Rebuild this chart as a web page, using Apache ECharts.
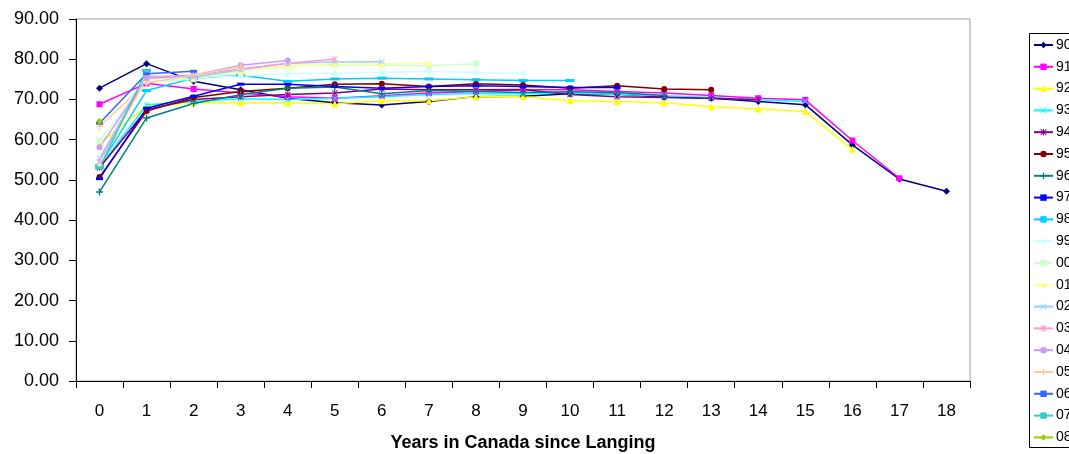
<!DOCTYPE html>
<html>
<head>
<meta charset="utf-8">
<script src="https://cdn.jsdelivr.net/npm/echarts@6/dist/echarts.min.js"></script>
<style>
  html, body { margin: 0; padding: 0; background: #fff; }
  #chart { width: 1069px; height: 454px; }
</style>
</head>
<body>
<div id="chart"></div>
<script>
// Years since landing (x categories)
const years = ['0','1','2','3','4','5','6','7','8','9','10','11','12','13','14','15','16','17','18'];

// Landing cohorts (legend names)
const cohorts = ['90','91','92','93','94','95','96','97','98','99','00','01','02','03','04','05','06','07','08'];

// Values per cohort, by years in Canada since landing
const s90 = [72.8, 78.9, 74.5, 72.4, 70.3, 69.2, 68.6, 69.5, 70.7, 70.8, 71.4, 71.3, 70.6, 70.3, 69.5, 68.7, 58.7, 50.2, 47.2];
const s91 = [68.8, 74.0, 72.6, 71.6, 70.7, 70.3, 70.9, 71.6, 72.0, 72.4, 72.4, 72.0, 71.6, 71.0, 70.3, 69.9, 59.8, 50.4];
const s92 = [59.0, 68.3, 69.2, 69.2, 69.1, 68.9, 69.7, 69.7, 70.7, 70.7, 69.7, 69.5, 69.2, 68.2, 67.6, 67.0, 57.6];
const s93 = [53.2, 68.7, 69.5, 70.2, 70.0, 70.3, 70.7, 71.2, 71.5, 71.4, 71.6, 71.2, 70.9, 70.5, 69.9, 69.5];
const s94 = [53.0, 67.5, 70.0, 70.7, 71.2, 71.6, 72.6, 72.4, 72.4, 72.5, 71.2, 70.7, 70.5, 70.3, 69.9];
const s95 = [50.7, 67.1, 70.5, 72.0, 72.8, 73.8, 73.9, 73.2, 73.9, 73.6, 72.8, 73.4, 72.6, 72.4];
const s96 = [47.0, 65.4, 69.0, 71.2, 72.8, 73.1, 71.4, 72.2, 72.0, 71.7, 71.9, 71.7, 71.0];
const s97 = [50.3, 67.8, 70.8, 73.8, 73.8, 73.2, 72.8, 73.2, 73.4, 73.2, 73.0, 73.0];
const s98 = [53.5, 72.2, 75.3, 76.0, 74.5, 75.1, 75.3, 75.1, 74.9, 74.7, 74.7];
const s99 = [55.0, 74.3, 75.5, 75.8, 76.4, 76.5, 76.7, 77.0, 76.7, 76.5];
const s00 = [59.8, 74.5, 75.0, 77.0, 78.5, 78.5, 78.5, 78.4, 78.9];
const s01 = [53.8, 75.0, 75.5, 77.1, 78.2, 78.8, 78.8, 79.0];
const s02 = [55.4, 75.8, 75.5, 77.4, 79.0, 79.3, 79.4];
const s03 = [54.6, 75.5, 76.0, 77.6, 79.0, 80.0];
const s04 = [58.1, 75.2, 76.0, 78.5, 79.7];
const s05 = [63.3, 74.1, 76.0, 78.2];
const s06 = [64.1, 76.4, 77.0];
const s07 = [53.0, 77.2];
const s08 = [64.5];

const values = [s90, s91, s92, s93, s94, s95, s96, s97, s98, s99, s00, s01, s02, s03, s04, s05, s06, s07, s08];

const colors = ['#000080','#FF00FF','#FFFF00','#00FFFF','#800080','#800000','#008080','#0000FF','#00CCFF',
                '#CCFFFF','#CCFFCC','#FFFF99','#99CCFF','#FF99CC','#CC99FF','#FFCC99','#3366FF','#33CCCC','#99CC00'];

// Marker shapes in the classic spreadsheet order
const X = 'path://M0,1L1,0L5,4L9,0L10,1L6,5L10,9L9,10L5,6L1,10L0,9L4,5Z';
const STAR = 'path://M0,1L1,0L4.3,3.3V0H5.7V3.3L9,0L10,1L6,5L10,9L9,10L5.7,6.7V10H4.3V6.7L1,10L0,9L4,5Z';
const PLUS = 'path://M4,0H6V4H10V6H6V10H4V6H0V4H4Z';
const DASH = 'path://M0,4H10V6H0Z';
const markers = ['diamond','rect','triangle',X,STAR,'circle',PLUS,DASH,DASH,
                 'diamond','rect','triangle',X,STAR,'circle',PLUS,DASH,DASH,'diamond'];
const sizes = [7,6,7,6,6,6,7,[7,3],[9,3],7,6,7,6,6,6,7,[7,3],[9,3],7];

const series = cohorts.map((name, i) => ({
  name: name,
  type: 'line',
  data: values[i],
  symbol: markers[i],
  symbolSize: sizes[i],
  showSymbol: true,
  showAllSymbol: true,
  lineStyle: { color: colors[i], width: 1.5 },
  itemStyle: { color: colors[i] },
  emphasis: { disabled: true }
}));

const chart = echarts.init(document.getElementById('chart'), null, { renderer: 'canvas' });
chart.setOption({
  animation: false,
  backgroundColor: '#fff',
  grid: { left: 76, right: 99, top: 19, bottom: 73, show: true, borderColor: '#a0a0a0', borderWidth: 1,
          containLabel: false, outerBoundsMode: 'none' },
  xAxis: {
    type: 'category',
    data: years,
    boundaryGap: true,
    name: 'Years in Canada since Langing',
    nameLocation: 'middle',
    nameGap: 53,
    nameTextStyle: { fontFamily: 'Liberation Sans, Arial, sans-serif', fontWeight: 'bold', fontSize: 18, color: '#000' },
    axisLine: { lineStyle: { color: '#000', width: 1 } },
    axisTick: { show: true, alignWithLabel: false, length: 7, lineStyle: { color: '#000' } },
    axisLabel: { margin: 22, fontFamily: 'Liberation Sans, Arial, sans-serif', fontSize: 17, color: '#000', interval: 0 },
    splitLine: { show: false }
  },
  yAxis: {
    type: 'value',
    min: 0, max: 90, interval: 10,
    axisLine: { show: true, lineStyle: { color: '#000', width: 1 } },
    axisTick: { show: true, length: 7, lineStyle: { color: '#000' } },
    axisLabel: { margin: 17, fontFamily: 'Liberation Sans, Arial, sans-serif', fontSize: 18, color: '#000',
                 formatter: v => v.toFixed(2) },
    splitLine: { show: false }
  },
  legend: {
    orient: 'vertical',
    left: 1033, top: 37,
    itemWidth: 19, itemHeight: 8, itemGap: 5.8,
    padding: 0,
    z: 5,
    data: cohorts,
    textStyle: { fontFamily: 'Liberation Sans, Arial, sans-serif', fontSize: 14, lineHeight: 16, color: '#000', padding: [0,0,0,-2] },
    selectedMode: false
  },
  graphic: [{
    type: 'rect', z: 1,
    shape: { x: 1029.5, y: 33.5, width: 100, height: 414 },
    style: { fill: '#fff', stroke: '#000', lineWidth: 1 }
  }],
  series: series
});
</script>
</body>
</html>
